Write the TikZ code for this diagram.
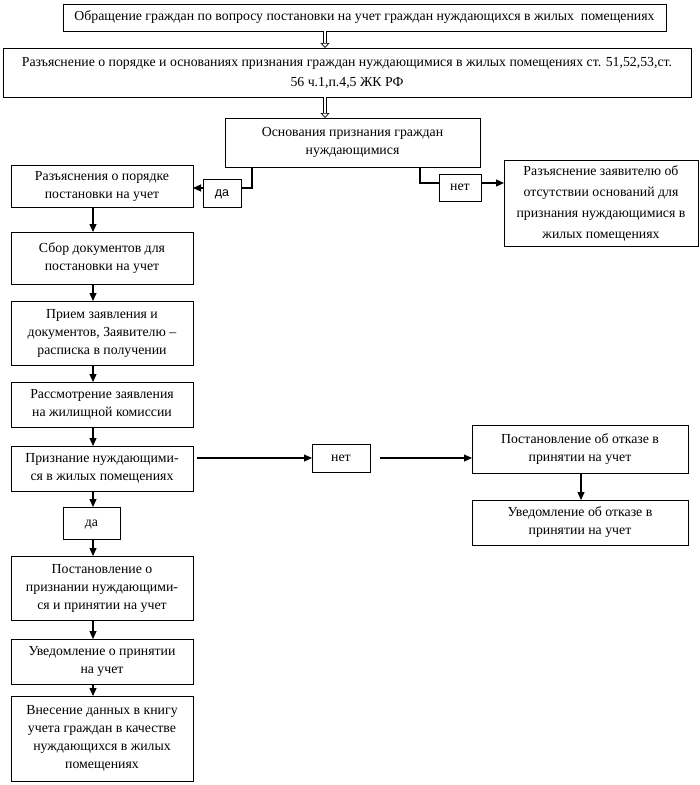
\documentclass[tikz,border=0pt]{standalone}
\usepackage{fontspec}
\setmainfont{Liberation Serif}
\newfontfamily\sansfnt{Liberation Sans}
\usetikzlibrary{positioning, arrows.meta}

\begin{document}
\begin{tikzpicture}[x=1pt, y=-1pt,
  every node/.style={font=\fontsize{13.8}{18}\selectfont},
  blok/.style={
    rectangle, draw=black, line width=1pt,
    align=center, inner sep=1pt, outer sep=0pt
  },
  kolonka/.style={blok, minimum width=182pt},
  metka/.style={rectangle, draw=black, line width=0.9pt, inner sep=1pt,
    outer sep=0pt, text height=6.5pt, text depth=0pt},
  linija/.style={line width=1.1pt},
  strel/.style={-{Triangle[length=8pt,width=7pt]}, line width=1.1pt},
  dvstrel/.style={double, double distance=2.6pt, line width=0.7pt,
    -{Triangle[open,length=5pt,width=9pt,line width=0.7pt]}}
]
  \useasboundingbox[fill=white] (0,0) rectangle (700,785);

  % --- Верхняя часть ---
  \node[blok, minimum width=603pt, minimum height=27pt] (obrash) at (364.5,17.5)
    {Обращение граждан по вопросу постановки на учет граждан нуждающихся в жилых~ помещениях};
  \node[blok, font=\fontsize{13.8}{20}\selectfont, minimum width=688pt, minimum height=49pt] (razjasn) at (347,72.5)
    {Разъяснение о порядке и основаниях признания граждан нуждающимися в жилых помещениях ст. 51,52,53,ст.\\
     56 ч.1,п.4,5 ЖК РФ};
  \node[blok, minimum width=255pt, minimum height=49pt] (osnov) at (352.5,142.5)
    {Основания признания граждан\\ нуждающимися};

  % --- Ветви да / нет ---
  \node[kolonka, minimum height=42pt] (porjadok) at (102,186)
    {Разъяснения о порядке\\ постановки на учет};
  \node[metka, minimum width=38pt, minimum height=28pt, font=\sansfnt\fontsize{12.5}{14}\selectfont] (da1) at (222,193) {да};
  \node[metka, minimum width=42pt, minimum height=27pt] (net1) at (460,187.5) {нет};
  \node[blok, font=\fontsize{13.8}{21}\selectfont, minimum width=194pt, minimum height=86pt] (otsut) at (601,203)
    {Разъяснение заявителю об\\ отсутствии оснований для\\ признания нуждающимися в\\ жилых помещениях};

  % --- Левая колонка ---
  \node[kolonka, minimum height=52pt, below=25pt of porjadok] (sbor)
    {Сбор документов для\\ постановки на учет};
  \node[kolonka, minimum height=64pt, below=17pt of sbor] (priem)
    {Прием заявления и\\ документов, Заявителю –\\ расписка в получении};
  \node[kolonka, minimum height=45pt, below=17pt of priem] (rassm)
    {Рассмотрение заявления\\ на жилищной комиссии};
  \node[kolonka, minimum height=45pt, below=19pt of rassm] (prizn)
    {Признание нуждающими-\\ся в жилых помещениях};
  \node[metka, minimum width=57pt, minimum height=32pt] (da2) at (91.5,523) {да};
  \node[kolonka, minimum height=64pt, below=65pt of prizn] (post)
    {Постановление о\\ признании нуждающими-\\ся и принятии на учет};
  \node[kolonka, minimum height=45pt, below=19pt of post] (uved)
    {Уведомление о принятии\\ на учет};
  \node[kolonka, minimum height=85pt, below=12pt of uved] (vnes)
    {Внесение данных в книгу\\ учета граждан в качестве\\ нуждающихся в жилых\\ помещениях};

  % --- Правая ветвь отказа ---
  \node[metka, minimum width=58pt, minimum height=28pt] (net2) at (341,458) {нет};
  \node[blok, minimum width=216pt, minimum height=48pt] (otkaz) at (580,449)
    {Постановление об отказе в\\ принятии на учет};
  \node[blok, minimum width=216pt, minimum height=45pt, below=27pt of otkaz] (uvotk)
    {Уведомление об отказе в\\ принятии на учет};

  % --- Вспомогательные точки ---
  \coordinate (dv) at (325,0);
  \coordinate (lx) at (93,0);
  \coordinate (lda) at (252,188);
  \coordinate (lnet) at (420,183);

  % --- Двойные стрелки ---
  \draw[dvstrel] (obrash.south -| dv) -- (razjasn.north -| dv);
  \draw[dvstrel] (razjasn.south -| dv) -- (osnov.north -| dv);

  % --- да / нет от оснований ---
  \draw[linija] (osnov.south -| lda) -- (lda) -- (lda -| da1.east);
  \draw[strel] (lda -| da1.west) -- (lda -| porjadok.east);
  \draw[linija] (osnov.south -| lnet) -- (lnet) -- (lnet -| net1.west);
  \draw[strel] (lnet -| net1.east) -- (lnet -| otsut.west);

  % --- Левая колонка ---
  \draw[strel] (porjadok.south -| lx) -- (sbor.north -| lx);
  \draw[strel] (sbor.south -| lx) -- (priem.north -| lx);
  \draw[strel] (priem.south -| lx) -- (rassm.north -| lx);
  \draw[strel] (rassm.south -| lx) -- (prizn.north -| lx);
  \draw[strel] (prizn.south -| lx) -- (da2.north -| lx);
  \draw[strel] (da2.south -| lx) -- (post.north -| lx);
  \draw[strel] (post.south -| lx) -- (uved.north -| lx);
  \draw[strel] (uved.south -| lx) -- (vnes.north -| lx);

  % --- Отказ ---
  \draw[strel, shorten <=4pt] (prizn.east |- net2.west) -- (net2.west);
  \draw[strel, shorten <=10pt] (net2.east) -- (net2.east -| otkaz.west);
  \draw[strel] (otkaz.south -| 581,0) -- (uvotk.north -| 581,0);
\end{tikzpicture}
\end{document}
